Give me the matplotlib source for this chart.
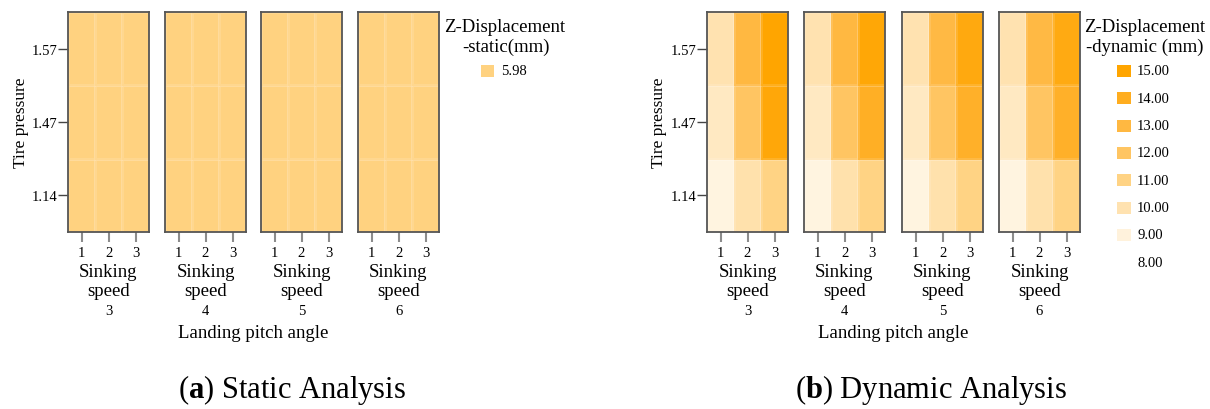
import numpy as np
import matplotlib
matplotlib.use("Agg")
import matplotlib.pyplot as plt
from matplotlib.colors import LinearSegmentedColormap, ListedColormap, Normalize
from matplotlib.patches import Rectangle

plt.rcParams['font.family'] = ['Liberation Serif', 'DejaVu Serif']
plt.rcParams['mathtext.fontset'] = 'custom'
plt.rcParams['mathtext.rm'] = 'Liberation Serif'
plt.rcParams['mathtext.bf'] = 'Liberation Serif:bold'

# ---------------- data ----------------
pitch_angles = ["3", "4", "5", "6"]
sinking_speeds = ["1", "2", "3"]
tire_pressures = ["1.14", "1.47", "1.57"]   # bottom -> top

static_value = 5.98
static_levels = [5.98]

# dynamic Z displacement (mm): per pitch angle, rows = tire pressure (1.14, 1.47, 1.57), cols = sinking speed 1..3
dyn_p3 = [[8.9, 10.1, 11.0], [9.6, 12.0, 14.7], [10.0, 13.0, 15.0]]
dyn_p4 = [[8.9, 10.1, 11.0], [9.6, 12.0, 13.8], [10.0, 13.0, 14.8]]
dyn_p5 = [[8.9, 10.1, 11.0], [9.6, 12.0, 13.7], [10.0, 12.9, 14.5]]
dyn_p6 = [[8.9, 10.1, 11.0], [9.6, 12.0, 13.7], [10.0, 12.9, 14.4]]
dynamic_data = [dyn_p3, dyn_p4, dyn_p5, dyn_p6]
dynamic_levels = [15.00, 14.00, 13.00, 12.00, 11.00, 10.00, 9.00, 8.00]

# ---------------- styling ----------------
W, H = 1210, 410
fig = plt.figure(figsize=(W / 100, H / 100), dpi=100)

def fx(x):
    return x / W

def fy(y):
    return 1 - y / H

dyn_cmap = LinearSegmentedColormap.from_list(
    "zdyn",
    [(0 / 7, "#FFFFFF"), (1 / 7, "#FFF2DC"), (2 / 7, "#FFE2B0"), (3 / 7, "#FFD384"),
     (4 / 7, "#FFC562"), (5 / 7, "#FFB841"), (6 / 7, "#FFAD1F"), (7 / 7, "#FFA500")])
dyn_norm = Normalize(vmin=8, vmax=15)
static_cmap = ListedColormap(["#FFD280"])
static_norm = Normalize(vmin=5, vmax=7)

left_x = [68, 165, 261, 358]
right_x = [707, 804, 902, 999]
pw = 81
top, bot = 13, 233

def draw_group(xs, data_list, cmap, norm, ylabel_x):
    axes = []
    for i, x0 in enumerate(xs):
        ax = fig.add_axes([fx(x0), fy(bot), pw / W, (bot - top) / H])
        arr = np.array(data_list[i])
        ax.pcolormesh(np.arange(4), np.arange(4), arr, cmap=cmap, norm=norm,
                      edgecolors=(1, 1, 1, 0.12), linewidth=0.8)
        ax.set_xlim(0, 3)
        ax.set_ylim(0, 3)
        for s in ax.spines.values():
            s.set_color("#555555")
            s.set_linewidth(1.3)
        ax.set_xticks(np.arange(3) + 0.5)
        ax.set_xticklabels(sinking_speeds, fontsize=10.5)
        ax.tick_params(axis='x', direction='out', length=7.2, width=1.5,
                       color="#8c8c8c", pad=3)
        if i == 0:
            ax.set_yticks(np.arange(3) + 0.5)
            ax.set_yticklabels(tire_pressures, fontsize=10.5)
            ax.tick_params(axis='y', direction='out', length=7.2, width=1.0,
                           color="#444444", pad=0.5)
        else:
            ax.set_yticks([])
        cx = x0 + pw / 2
        fig.text(fx(cx), fy(282), "Sinking\nspeed", ha='center', va='center',
                 fontsize=13.5, linespacing=1.08)
        fig.text(fx(cx), fy(312), pitch_angles[i], ha='center', va='center', fontsize=10.5)
        axes.append(ax)
    fig.text(fx(ylabel_x), fy((top + bot) / 2), "Tire pressure", rotation=90,
             ha='center', va='center', fontsize=12.5)
    mid = (xs[0] + xs[-1] + pw) / 2
    fig.text(fx(mid), fy(334), "Landing pitch angle", ha='center', va='center', fontsize=13.5)
    return axes

static_data = [np.full((3, 3), static_value) for _ in pitch_angles]
draw_group(left_x, static_data, static_cmap, static_norm, 21)
draw_group(right_x, dynamic_data, dyn_cmap, dyn_norm, 659)

# legends
fig.text(fx(505), fy(28), "Z-Displacement", ha='center', va='center', fontsize=13.5)
fig.text(fx(506), fy(47), "-static(mm)", ha='center', va='center', fontsize=13.5)
for j, lv in enumerate(static_levels):
    yc = 72 + 27.3 * j
    fig.patches.append(Rectangle((fx(481), fy(yc + 6)), 13 / W, 12 / H,
                                 transform=fig.transFigure,
                                 facecolor=static_cmap(static_norm(lv)), edgecolor='none'))
    fig.text(fx(501), fy(yc), f"{lv:.2f}", ha='left', va='center', fontsize=10.5)

fig.text(fx(1145), fy(28), "Z-Displacement", ha='center', va='center', fontsize=13.5)
fig.text(fx(1145), fy(47), "-dynamic (mm)", ha='center', va='center', fontsize=13.5)
for j, lv in enumerate(dynamic_levels):
    yc = 72 + 27.3 * j
    fig.patches.append(Rectangle((fx(1117), fy(yc + 6)), 14 / W, 12 / H,
                                 transform=fig.transFigure,
                                 facecolor=dyn_cmap(dyn_norm(lv)), edgecolor='none'))
    fig.text(fx(1137), fy(yc), f"{lv:.2f}", ha='left', va='center', fontsize=10.5)

# captions
fig.text(fx(292), fy(390), r"($\mathbf{a}$) Static Analysis", ha='center', va='center', fontsize=22)
fig.text(fx(931), fy(390), r"($\mathbf{b}$) Dynamic Analysis", ha='center', va='center', fontsize=22)

fig.savefig("out.png", dpi=100, facecolor='white')
